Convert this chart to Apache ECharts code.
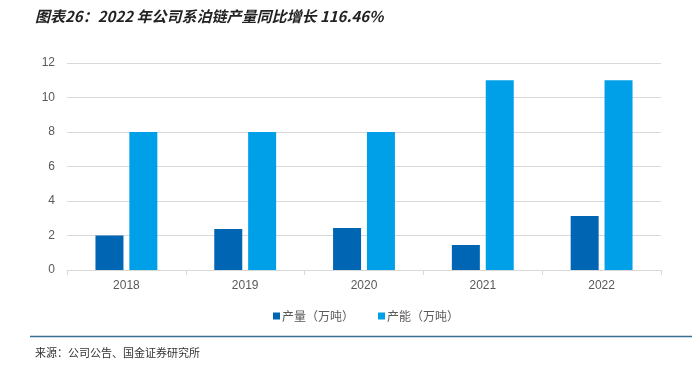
<!DOCTYPE html>
<html><head><meta charset="utf-8">
<script src="https://cdn.jsdelivr.net/npm/echarts@6/dist/echarts.min.js"></script>
<style>html,body{margin:0;padding:0;background:#fff;}#c{width:694px;height:368px;}</style>
</head><body><div id="c"></div>
<script>
const categories = ['2018','2019','2020','2021','2022'];
const output = [2.0, 2.37, 2.43, 1.45, 3.13];
const capacity = [8, 8, 8, 11, 11];
const yTicks = [0, 2, 4, 6, 8, 10, 12];
const seriesNames = ['产量（万吨）','产能（万吨）'];

const chart = echarts.init(document.getElementById('c'));
chart.setOption({
  animation: false,
  title: [{
    text: '图表26：2022 年公司系泊链产量同比增长 116.46%',
    left: 30, top: 4,
    textStyle: {fontFamily: 'Noto Sans CJK SC', fontSize: 15, fontWeight: 'bold', fontStyle: 'italic', color: '#222'}
  }, {
    text: '来源：公司公告、国金证券研究所',
    left: 30, top: 342,
    textStyle: {fontFamily: 'Noto Sans CJK SC', fontSize: 11, fontWeight: 'normal', color: '#333'}
  }],
  graphic: [{type: 'line', shape: {x1: 30, y1: 336.5, x2: 692, y2: 336.5}, style: {stroke: '#3A6F96', lineWidth: 1.5}}],
  legend: {
    data: seriesNames, top: 305, left: 268, itemWidth: 7, itemHeight: 7, itemGap: 24,
    icon: 'rect',
    textStyle: {fontFamily: 'Noto Sans CJK SC', fontSize: 12, color: '#595959', padding: [0,0,0,-3]}
  },
  grid: {left: 67, right: 33, top: 63, bottom: 98, containLabel: false},
  xAxis: {
    type: 'category', data: categories,
    axisLine: {lineStyle: {color: '#D9D9D9'}},
    axisTick: {show: true, alignWithLabel: false, lineStyle: {color: '#D9D9D9'}},
    axisLabel: {fontFamily: 'Liberation Sans', fontSize: 12, color: '#595959', margin: 10}
  },
  yAxis: {
    type: 'value', min: yTicks[0], max: yTicks[yTicks.length-1], interval: 2,
    axisLine: {show: false}, axisTick: {show: false},
    splitLine: {lineStyle: {color: '#D9D9D9'}},
    axisLabel: {fontFamily: 'Liberation Sans', fontSize: 12, color: '#595959', margin: 12}
  },
  series: [
    {name: seriesNames[0], type: 'bar', data: output, barWidth: 28, barGap: '21%', itemStyle: {color: '#0066B3'}},
    {name: seriesNames[1], type: 'bar', data: capacity, barWidth: 28, itemStyle: {color: '#00A0E9'}}
  ]
});
</script></body></html>
